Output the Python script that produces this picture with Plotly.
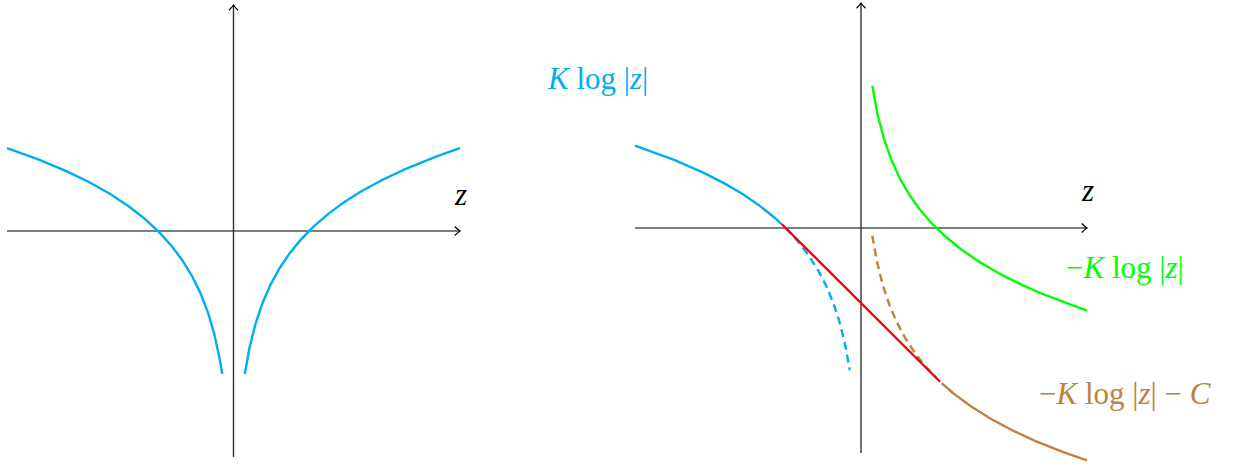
import numpy as np
import plotly.graph_objects as go

# functions drawn: K log|z| and -K log|z| - C, tangent line joins them at z=-1 and z=1
K = 1.0
C = 2.0
z_neg = np.linspace(-3, -0.15, 400)
z_pos = np.linspace(0.15, 3, 400)
z_neg_solid = np.linspace(-3, -1.05, 300)
z_neg_dash = np.linspace(-1.0, -0.15, 200)
z_pos_dash = np.linspace(0.15, 1.0, 200)
z_pos_solid = np.linspace(1.07, 3, 300)
z_line = [-1.05, 1.05]

CYAN = "#00AEEF"
GREEN = "#00FF00"
RED = "#FF0000"
BROWN = "#BF8040"
LW = 2.4

W, H = 1235, 465


def xrange_for(px_lo, px_hi):
    s = (px_hi - px_lo) / 6.0
    r0 = -3 - px_lo / s
    return [r0, r0 + W / s]


def yrange_for(px_top, px_bot):
    s = (px_bot - px_top) / 6.0
    r1 = 3 + px_top / s
    return [r1 - H / s, r1]


fig = go.Figure()

# left panel
fig.add_trace(go.Scatter(x=z_neg, y=K * np.log(np.abs(z_neg)), mode="lines",
                         line=dict(color=CYAN, width=LW), xaxis="x", yaxis="y"))
fig.add_trace(go.Scatter(x=z_pos, y=K * np.log(np.abs(z_pos)), mode="lines",
                         line=dict(color=CYAN, width=LW), xaxis="x", yaxis="y"))

# right panel
fig.add_trace(go.Scatter(x=z_neg_solid, y=K * np.log(np.abs(z_neg_solid)), mode="lines",
                         line=dict(color=CYAN, width=LW), xaxis="x2", yaxis="y2"))
fig.add_trace(go.Scatter(x=z_neg_dash, y=K * np.log(np.abs(z_neg_dash)), mode="lines",
                         line=dict(color=CYAN, width=LW, dash="8px,5px"), xaxis="x2", yaxis="y2"))
fig.add_trace(go.Scatter(x=z_pos, y=-K * np.log(z_pos), mode="lines",
                         line=dict(color=GREEN, width=LW), xaxis="x2", yaxis="y2"))
fig.add_trace(go.Scatter(x=z_pos_dash, y=-K * np.log(z_pos_dash) - C, mode="lines",
                         line=dict(color=BROWN, width=LW, dash="8px,5px"), xaxis="x2", yaxis="y2"))
fig.add_trace(go.Scatter(x=z_pos_solid, y=-K * np.log(z_pos_solid) - C, mode="lines",
                         line=dict(color=BROWN, width=LW), xaxis="x2", yaxis="y2"))
fig.add_trace(go.Scatter(x=z_line, y=[-z - 1 for z in z_line], mode="lines",
                         line=dict(color=RED, width=LW), xaxis="x2", yaxis="y2"))

# axes with open arrow heads
shapes = []
for xr, yr in [("x", "y"), ("x2", "y2")]:
    shapes.append(dict(type="line", xref=xr, yref=yr, x0=-3, y0=0, x1=3, y1=0,
                       line=dict(color="black", width=1.2), layer="below"))
    shapes.append(dict(type="line", xref=xr, yref=yr, x0=0, y0=-3, x1=0, y1=3,
                       line=dict(color="#333333", width=1.4), layer="below"))
    shapes.append(dict(type="path", xref=xr, yref=yr,
                       path="M 2.93,0.06 Q 2.97,0.02 3,0 Q 2.97,-0.02 2.93,-0.06",
                       line=dict(color="black", width=1.2)))
    shapes.append(dict(type="path", xref=xr, yref=yr,
                       path="M -0.06,2.93 Q -0.02,2.97 0,3 Q 0.02,2.97 0.06,2.93",
                       line=dict(color="black", width=1.2)))

serif = "Liberation Serif, DejaVu Serif, serif"
FS = 31
annotations = [
    dict(x=3, y=0.48, xref="x", yref="y", text="<i>z</i>", showarrow=False,
         font=dict(family=serif, size=FS, color="black")),
    dict(x=3, y=0.5, xref="x2", yref="y2", text="<i>z</i>", showarrow=False,
         font=dict(family=serif, size=FS, color="black")),
    dict(x=-3.5, y=2.0, xref="x2", yref="y2", text="<i>K</i> log |<i>z</i>|", showarrow=False,
         font=dict(family=serif, size=FS, color=CYAN)),
    dict(x=3.5, y=-0.53, xref="x2", yref="y2", text="−<i>K</i> log |<i>z</i>|", showarrow=False,
         font=dict(family=serif, size=FS, color=GREEN)),
    dict(x=3.5, y=-2.2, xref="x2", yref="y2", text="−<i>K</i> log |<i>z</i>| − <i>C</i>", showarrow=False,
         font=dict(family=serif, size=FS, color=BROWN)),
]

axis_off = dict(visible=False, showgrid=False, zeroline=False, domain=[0, 1], fixedrange=True)
fig.update_layout(
    width=W, height=H,
    margin=dict(l=0, r=0, t=0, b=0),
    paper_bgcolor="white", plot_bgcolor="rgba(0,0,0,0)",
    showlegend=False,
    xaxis=dict(axis_off, range=xrange_for(7, 460)),
    yaxis=dict(axis_off, range=yrange_for(5, 457)),
    xaxis2=dict(axis_off, range=xrange_for(635, 1087), overlaying="x"),
    yaxis2=dict(axis_off, range=yrange_for(3, 453), overlaying="y"),
    shapes=shapes,
    annotations=annotations,
)

fig.write_html("out.html", config={"displayModeBar": False},
               post_script="document.body.style.margin='0';")
